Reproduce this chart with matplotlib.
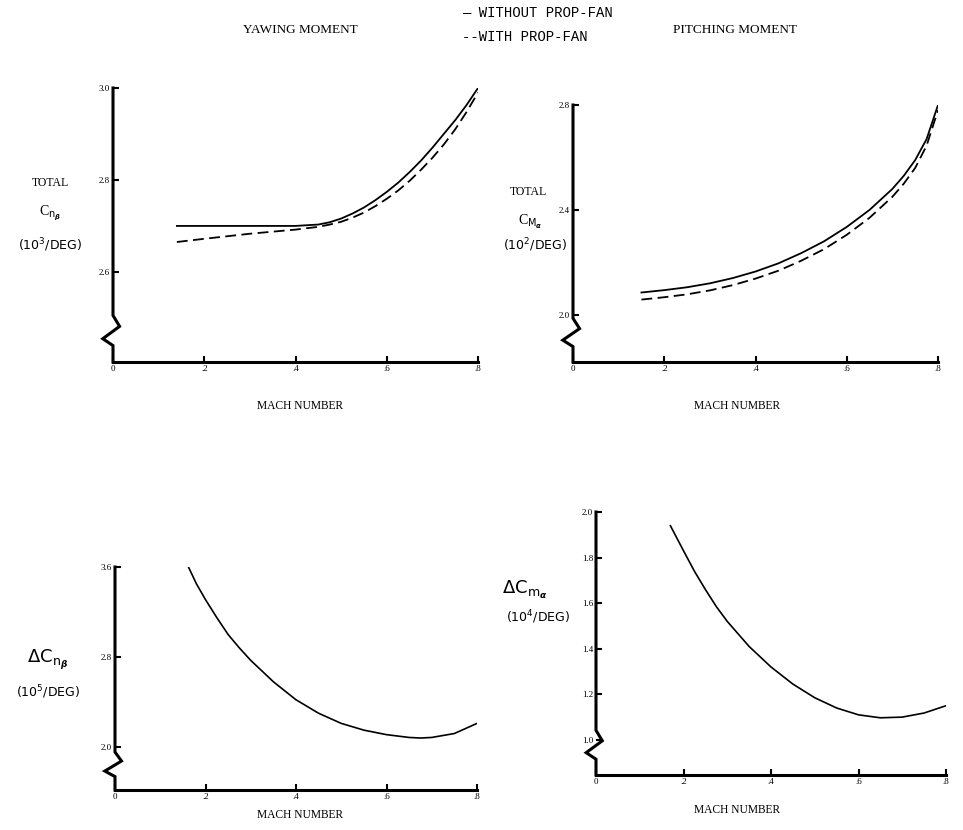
import matplotlib.pyplot as plt

# ---- data ----
mach_tl = [0.14, 0.2, 0.3, 0.4, 0.45, 0.475, 0.5, 0.525, 0.55, 0.575, 0.6,
           0.625, 0.65, 0.675, 0.7, 0.725, 0.75, 0.775, 0.8]
cnb_without = [2.70, 2.70, 2.70, 2.70, 2.703, 2.708, 2.716, 2.727, 2.740, 2.756,
               2.774, 2.794, 2.817, 2.842, 2.870, 2.900, 2.930, 2.963, 3.0]
cnb_with = [2.665, 2.672, 2.683, 2.692, 2.698, 2.703, 2.709, 2.718, 2.729, 2.743,
            2.759, 2.777, 2.798, 2.822, 2.848, 2.877, 2.910, 2.948, 2.99]

mach_tr = [0.15, 0.2, 0.25, 0.3, 0.35, 0.4, 0.45, 0.5, 0.55, 0.6, 0.65, 0.7,
           0.725, 0.75, 0.775, 0.8]
cma_without = [2.085, 2.094, 2.105, 2.12, 2.14, 2.165, 2.196, 2.235, 2.28, 2.335,
               2.40, 2.48, 2.53, 2.59, 2.67, 2.80]
cma_with = [2.058, 2.067, 2.078, 2.093, 2.113, 2.138, 2.168, 2.206, 2.25, 2.305,
            2.37, 2.45, 2.50, 2.56, 2.645, 2.78]

mach_bl = [0.16, 0.18, 0.2, 0.225, 0.25, 0.275, 0.3, 0.35, 0.4, 0.45, 0.5, 0.55,
           0.6, 0.65, 0.675, 0.7, 0.75, 0.8]
dcnb = [3.62, 3.45, 3.31, 3.15, 3.00, 2.88, 2.77, 2.58, 2.42, 2.30, 2.21, 2.15,
        2.11, 2.085, 2.08, 2.085, 2.12, 2.21]

mach_br = [0.17, 0.2, 0.225, 0.25, 0.275, 0.3, 0.35, 0.4, 0.45, 0.5, 0.55, 0.6,
           0.65, 0.7, 0.75, 0.8]
dcma = [1.94, 1.83, 1.74, 1.66, 1.585, 1.52, 1.41, 1.32, 1.245, 1.185, 1.14, 1.11,
        1.097, 1.10, 1.118, 1.15]

xticks = [0, 0.2, 0.4, 0.6, 0.8]
xticklabels = ['0', '.2', '.4', '.6', '.8']

W, H = 963, 830
serif = 'Liberation Serif'
mono = 'Liberation Mono'

fig = plt.figure(figsize=(W / 100, H / 100), dpi=100)


def make_ax(l, r, t, b):
    return fig.add_axes([l / W, 1 - b / H, (r - l) / W, (b - t) / H])


def style(ax, ylo, yhi, yticks, ylabels):
    ax.set_xlim(0, 0.8)
    ax.set_ylim(ylo, yhi)
    for s in ['top', 'right', 'left']:
        ax.spines[s].set_visible(False)
    ax.spines['bottom'].set_linewidth(2.2)
    ax.set_xticks(xticks)
    ax.set_xticklabels(xticklabels, fontsize=6.5, family=serif)
    ax.set_yticks(yticks)
    ax.set_yticklabels(ylabels, fontsize=6.5, family=serif)
    ax.tick_params(direction='in', length=4, width=1.5, pad=2)
    ax.set_facecolor('none')
    # left axis with the little break zig-zag near the origin
    zx = [0, 0, 0.018, -0.028, 0, 0]
    zy = [1, 0.17, 0.13, 0.085, 0.06, 0]
    ax.plot(zx, zy, color='black', lw=2.2, transform=ax.transAxes,
            clip_on=False, solid_joinstyle='miter')


# top left: yawing moment
ax1 = make_ax(113, 478, 88, 362)
style(ax1, 2.404, 3.0, [2.6, 2.8, 3.0], ['2.6', '2.8', '3.0'])
ax1.plot(mach_tl, cnb_without, color='black', lw=1.3)
ax1.plot(mach_tl, cnb_with, color='black', lw=1.3, ls=(0, (6, 3)))

# top right: pitching moment
ax2 = make_ax(573, 938, 105, 362)
style(ax2, 1.82, 2.8, [2.0, 2.4, 2.8], ['2.0', '2.4', '2.8'])
ax2.plot(mach_tr, cma_without, color='black', lw=1.3)
ax2.plot(mach_tr, cma_with, color='black', lw=1.3, ls=(0, (6, 3)))

# bottom left
ax3 = make_ax(115, 477, 567, 790)
style(ax3, 1.618, 3.6, [2.0, 2.8, 3.6], ['2.0', '2.8', '3.6'])
ax3.plot(mach_bl, dcnb, color='black', lw=1.2)

# bottom right
ax4 = make_ax(596, 946, 512, 775)
style(ax4, 0.846, 2.0, [1.0, 1.2, 1.4, 1.6, 1.8, 2.0],
      ['1.0', '1.2', '1.4', '1.6', '1.8', '2.0'])
ax4.plot(mach_br, dcma, color='black', lw=1.2)

# titles and legend
fig.text(300 / W, 1 - 30 / H, 'YAWING MOMENT', fontsize=9.5, family=serif,
         ha='center', va='center')
fig.text(735 / W, 1 - 30 / H, 'PITCHING MOMENT', fontsize=9.5, family=serif,
         ha='center', va='center')
fig.text(462 / W, 1 - 13 / H, '— WITHOUT PROP-FAN', fontsize=10, family=mono,
         ha='left', va='center')
fig.text(462 / W, 1 - 37 / H, '--WITH PROP-FAN', fontsize=10, family=mono,
         ha='left', va='center')

# axis labels
for x, y in [(300, 406), (737, 406), (300, 815), (737, 810)]:
    fig.text(x / W, 1 - y / H, 'MACH NUMBER', fontsize=8.3, family=serif,
             ha='center', va='center')

fig.text(50 / W, 1 - 183 / H, 'TOTAL', fontsize=8.5, family=serif,
         ha='center', va='center')
fig.text(50 / W, 1 - 213 / H, r'C$_{\mathrm{n}_{\boldsymbol{\beta}}}$',
         fontsize=10, family=serif, ha='center', va='center')
fig.text(50 / W, 1 - 245 / H, '(10$^3$/DEG)', fontsize=9, family='DejaVu Sans',
         ha='center', va='center')

fig.text(528 / W, 1 - 192 / H, 'TOTAL', fontsize=8.5, family=serif,
         ha='center', va='center')
fig.text(530 / W, 1 - 222 / H, r'C$_{\mathrm{M}_{\boldsymbol{\alpha}}}$',
         fontsize=10, family=serif, ha='center', va='center')
fig.text(535 / W, 1 - 245 / H, '(10$^2$/DEG)', fontsize=9, family='DejaVu Sans',
         ha='center', va='center')

fig.text(48 / W, 1 - 660 / H, r'$\Delta$C$_{\mathrm{n}_{\boldsymbol{\beta}}}$',
         fontsize=13, family='DejaVu Sans', ha='center', va='center')
fig.text(48 / W, 1 - 692 / H, '(10$^5$/DEG)', fontsize=9, family='DejaVu Sans',
         ha='center', va='center')

fig.text(525 / W, 1 - 590 / H, r'$\Delta$C$_{\mathrm{m}_{\boldsymbol{\alpha}}}$',
         fontsize=13, family='DejaVu Sans', ha='center', va='center')
fig.text(538 / W, 1 - 617 / H, '(10$^4$/DEG)', fontsize=9, family='DejaVu Sans',
         ha='center', va='center')

fig.savefig('out.png', dpi=100)
